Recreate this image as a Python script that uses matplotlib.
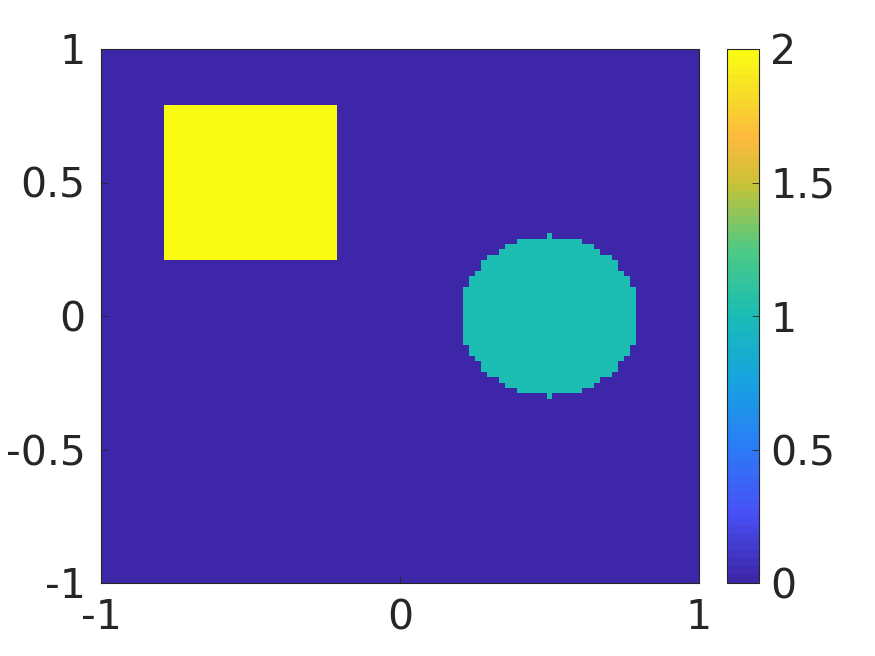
import numpy as np
import matplotlib
matplotlib.use("Agg")
import matplotlib.pyplot as plt
from matplotlib.colors import LinearSegmentedColormap, ListedColormap

# grid nodes
n_nodes = 101
x_nodes = np.linspace(-1, 1, n_nodes)
y_nodes = np.linspace(-1, 1, n_nodes)

# square (value 2) and circle (value 1) on zero background
square_x = (-0.8, -0.2)
square_y = (0.2, 0.8)
square_value = 2.0
circle_center = (0.5, 0.0)
circle_radius = 0.3
circle_value = 1.0

cbar_ticks = [0, 0.5, 1, 1.5, 2]
xaxis_ticks = [-1, 0, 1]
yaxis_ticks = [-1, -0.5, 0, 0.5, 1]

X, Y = np.meshgrid(x_nodes, y_nodes)
Z = np.zeros_like(X)
in_sq = (X > square_x[0] + 1e-9) & (X < square_x[1] - 1e-9) & \
        (Y > square_y[0] + 1e-9) & (Y < square_y[1] - 1e-9)
Z[in_sq] = square_value
dx = X - circle_center[0]
dy = Y - circle_center[1]
d2 = dx ** 2 + dy ** 2
# boundary nodes are left out, except the top and bottom poles (as in the original)
in_circ = (d2 < circle_radius ** 2 - 1e-9) | \
          ((np.abs(dx) < 1e-9) & (np.abs(np.abs(dy) - circle_radius) < 1e-9))
Z[in_circ] = circle_value

# approximate parula
parula_pts = [
    (0.0, (0.2422, 0.1504, 0.6603)),
    (0.125, (0.2786, 0.3168, 0.9658)),
    (0.25, (0.1700, 0.4850, 0.9650)),
    (0.375, (0.0900, 0.6400, 0.8800)),
    (0.5, (0.0950, 0.7400, 0.7100)),
    (0.625, (0.3000, 0.7900, 0.5200)),
    (0.75, (0.7800, 0.7600, 0.2200)),
    (0.84, (0.9900, 0.7300, 0.2400)),
    (0.92, (0.9700, 0.8600, 0.1600)),
    (1.0, (0.9769, 0.9839, 0.0805)),
]
base = LinearSegmentedColormap.from_list("parula_approx", parula_pts)
parula = ListedColormap(base(np.linspace(0, 1, 64)))

txt = (0.15, 0.15, 0.15)
plt.rcParams['font.family'] = ['DejaVu Sans']
plt.rcParams['font.size'] = 29.5

fig = plt.figure(figsize=(8.75, 6.56), dpi=100)
ax = fig.add_axes([101 / 875, 1 - 583 / 656, 598 / 875, 534 / 656])
cax = fig.add_axes([727 / 875, 1 - 583 / 656, 32 / 875, 534 / 656])

mesh = ax.pcolormesh(x_nodes, y_nodes, Z, cmap=parula, vmin=0, vmax=2, shading="nearest")
ax.set_xlim(-1, 1)
ax.set_ylim(-1, 1)
ax.set_xticks(xaxis_ticks)
ax.set_xticklabels(["-1", "0", "1"])
ax.set_yticks(yaxis_ticks)
ax.set_yticklabels(["-1", "-0.5", "0", "0.5", "1"])
ax.tick_params(direction="in", length=5, width=0.6, colors=txt)
ax.tick_params(axis="x", pad=11)
ax.tick_params(axis="y", pad=11)
for s in ax.spines.values():
    s.set_color(txt)
    s.set_linewidth(0.8)

cb = fig.colorbar(mesh, cax=cax, ticks=cbar_ticks)
cb.set_ticklabels(["0", "0.5", "1", "1.5", "2"])
cax.tick_params(direction="in", length=5, width=0.6, colors=txt, pad=8)
cb.outline.set_edgecolor(txt)
cb.outline.set_linewidth(0.8)

fig.savefig("out.png", dpi=100)
